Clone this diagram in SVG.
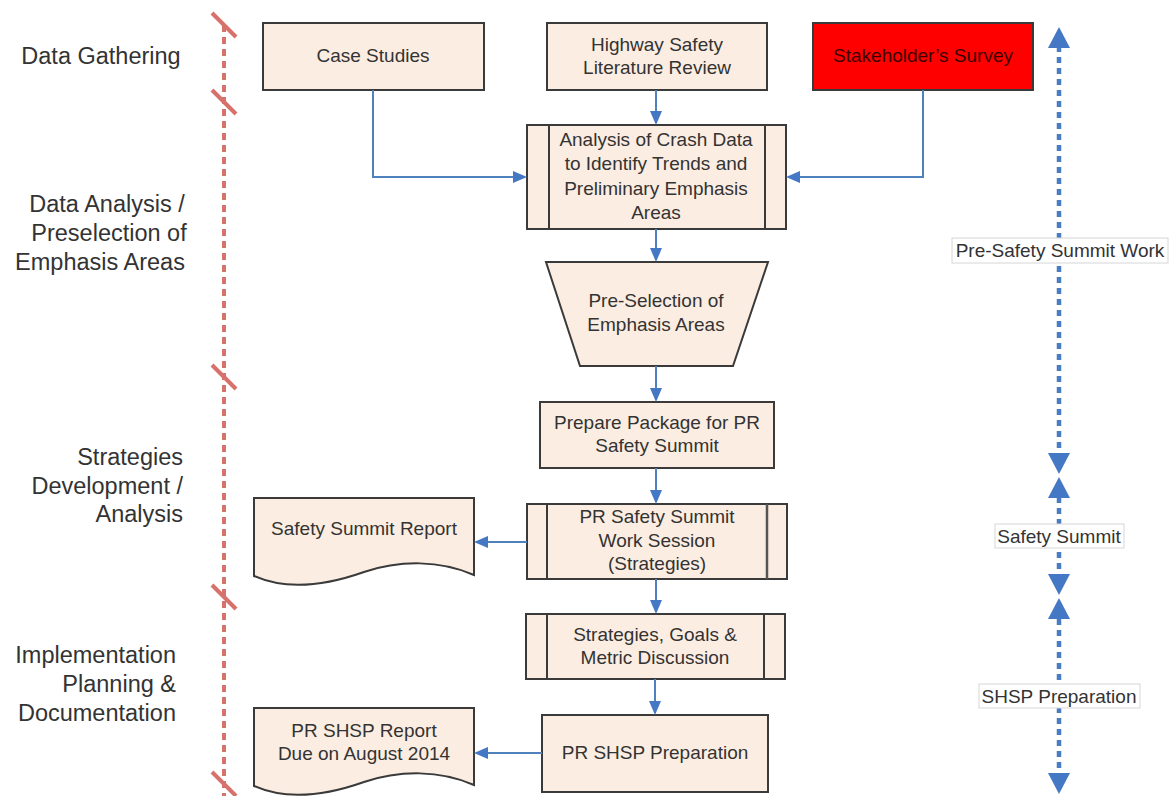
<svg xmlns="http://www.w3.org/2000/svg" width="1175" height="796" viewBox="0 0 1175 796">
<style>
.box{fill:#fcede2;stroke:#3a3a3a;stroke-width:2}
.inner{stroke:#3a3a3a;stroke-width:2;fill:none}
.t{font-family:"Liberation Sans",Arial,sans-serif;font-size:19px;fill:#333;text-anchor:middle}
.lab{font-family:"Liberation Sans",Arial,sans-serif;font-size:23.5px;fill:#333}
.con{stroke:#4f81bd;stroke-width:2;fill:none}
.ah{fill:#4477c4}
.phase{stroke:#4a7cc4;stroke-width:4.5;stroke-dasharray:6 5;fill:none}
.red{stroke:#d7716b;stroke-width:4;fill:none}
.rbox{fill:#fff;stroke:#d6d6d6;stroke-width:1}
</style>
<rect width="1175" height="796" fill="#fff"/>

<g id="swimlane-divider">
<line class="red" x1="224" y1="25" x2="224" y2="796" stroke-dasharray="7 5"/>
<line class="red" x1="212" y1="13" x2="236" y2="37"/>
<line class="red" x1="212" y1="90" x2="236" y2="114"/>
<line class="red" x1="212" y1="365" x2="236" y2="389"/>
<line class="red" x1="212" y1="585" x2="236" y2="609"/>
<line class="red" x1="212" y1="772" x2="236" y2="796"/>
</g>

<g id="lane-labels">
<text class="lab" x="101" y="64" text-anchor="middle">Data Gathering</text>
<text class="lab" x="107" y="212" text-anchor="middle">Data Analysis /</text>
<text class="lab" x="109" y="241" text-anchor="middle">Preselection of</text>
<text class="lab" x="100" y="270" text-anchor="middle">Emphasis Areas</text>
<text class="lab" x="183" y="465" text-anchor="end">Strategies</text>
<text class="lab" x="183" y="494" text-anchor="end">Development /</text>
<text class="lab" x="183" y="522" text-anchor="end">Analysis</text>
<text class="lab" x="176" y="663" text-anchor="end">Implementation</text>
<text class="lab" x="176" y="692" text-anchor="end">Planning &amp;</text>
<text class="lab" x="176" y="721" text-anchor="end">Documentation</text>
</g>

<g id="case-studies">
<rect class="box" x="263" y="23" width="221" height="67"/>
<text class="t" x="373" y="62">Case Studies</text>
</g>
<g id="literature-review">
<rect class="box" x="547" y="23" width="220" height="67"/>
<text class="t" x="657" y="51">Highway Safety</text>
<text class="t" x="657" y="74">Literature Review</text>
</g>
<g id="stakeholder-survey">
<rect x="813" y="23" width="220" height="67" fill="#ff0000" stroke="#3a3a3a" stroke-width="2"/>
<text class="t" x="923" y="62" style="fill:#3a0000">Stakeholder’s Survey</text>
</g>

<g id="crash-analysis">
<rect class="box" x="527" y="125" width="259" height="104"/>
<line class="inner" x1="549" y1="125" x2="549" y2="229"/>
<line class="inner" x1="765" y1="125" x2="765" y2="229"/>
<text class="t" x="656" y="146">Analysis of Crash Data</text>
<text class="t" x="656" y="170">to Identify Trends and</text>
<text class="t" x="656" y="195">Preliminary Emphasis</text>
<text class="t" x="656" y="219">Areas</text>
</g>

<g id="preselection">
<polygon class="box" points="546,262 768,262 733,366 580,366"/>
<text class="t" x="656" y="307">Pre-Selection of</text>
<text class="t" x="656" y="331">Emphasis Areas</text>
</g>

<g id="prepare-package">
<rect class="box" x="540" y="402" width="234" height="66"/>
<text class="t" x="657" y="429">Prepare Package for PR</text>
<text class="t" x="657" y="452">Safety Summit</text>
</g>

<g id="work-session">
<rect class="box" x="527" y="504" width="260" height="75"/>
<line class="inner" x1="547" y1="504" x2="547" y2="579"/>
<line class="inner" x1="767" y1="504" x2="767" y2="579" style="stroke:#555;stroke-width:2.5"/>
<text class="t" x="657" y="523">PR Safety Summit</text>
<text class="t" x="657" y="547">Work Session</text>
<text class="t" x="657" y="570">(Strategies)</text>
</g>

<g id="safety-summit-report">
<path class="box" d="M254,498 H474 V575 C440,560 400,560 364,572 C330,584 290,592 254,576 Z"/>
<text class="t" x="364" y="535">Safety Summit Report</text>
</g>

<g id="strategies-goals">
<rect class="box" x="526" y="614" width="259" height="65"/>
<line class="inner" x1="547" y1="614" x2="547" y2="679"/>
<line class="inner" x1="764" y1="614" x2="764" y2="679"/>
<text class="t" x="655" y="641">Strategies, Goals &amp;</text>
<text class="t" x="655" y="664">Metric Discussion</text>
</g>

<g id="shsp-preparation">
<rect class="box" x="542" y="715" width="226" height="77"/>
<text class="t" x="655" y="759">PR SHSP Preparation</text>
</g>

<g id="shsp-report">
<path class="box" d="M254,708 H474 V785 C440,770 400,770 364,782 C330,794 290,802 254,786 Z"/>
<text class="t" x="364" y="737">PR SHSP Report</text>
<text class="t" x="364" y="760">Due on August 2014</text>
</g>

<g id="connectors">
<polyline class="con" points="373,90 373,177 515,177"/>
<polygon class="ah" points="527,177 513,171 513,183"/>
<polyline class="con" points="923,90 923,177 798,177"/>
<polygon class="ah" points="786,177 800,171 800,183"/>
<line class="con" x1="656" y1="90" x2="656" y2="113"/>
<polygon class="ah" points="656,125 650,111 662,111"/>
<line class="con" x1="656" y1="229" x2="656" y2="250"/>
<polygon class="ah" points="656,262 650,248 662,248"/>
<line class="con" x1="656" y1="366" x2="656" y2="390"/>
<polygon class="ah" points="656,402 650,388 662,388"/>
<line class="con" x1="656" y1="468" x2="656" y2="492"/>
<polygon class="ah" points="656,504 650,490 662,490"/>
<line class="con" x1="656" y1="579" x2="656" y2="602"/>
<polygon class="ah" points="656,614 650,600 662,600"/>
<line class="con" x1="655" y1="679" x2="655" y2="703"/>
<polygon class="ah" points="655,715 649,701 661,701"/>
<line class="con" x1="527" y1="542" x2="486" y2="542"/>
<polygon class="ah" points="474,542 488,536 488,548"/>
<line class="con" x1="542" y1="753" x2="486" y2="753"/>
<polygon class="ah" points="474,753 488,747 488,759"/>
</g>

<g id="phase-arrows">
<line class="phase" x1="1059" y1="46" x2="1059" y2="455"/>
<polygon class="ah" points="1059,27 1048,48 1070,48"/>
<polygon class="ah" points="1059,474 1048,453 1070,453"/>
<line class="phase" x1="1059" y1="497" x2="1059" y2="577"/>
<polygon class="ah" points="1059,477 1048,498 1070,498"/>
<polygon class="ah" points="1059,595 1048,574 1070,574"/>
<line class="phase" x1="1059" y1="619" x2="1059" y2="775"/>
<polygon class="ah" points="1059,598 1048,619 1070,619"/>
<polygon class="ah" points="1059,794 1048,773 1070,773"/>
</g>

<g id="phase-labels">
<rect class="rbox" x="952" y="238" width="216" height="25"/>
<text class="t" x="1060" y="257">Pre-Safety Summit Work</text>
<rect class="rbox" x="995" y="524" width="129" height="24"/>
<text class="t" x="1059" y="543">Safety Summit</text>
<rect class="rbox" x="979" y="684" width="161" height="24"/>
<text class="t" x="1059" y="703">SHSP Preparation</text>
</g>
</svg>
